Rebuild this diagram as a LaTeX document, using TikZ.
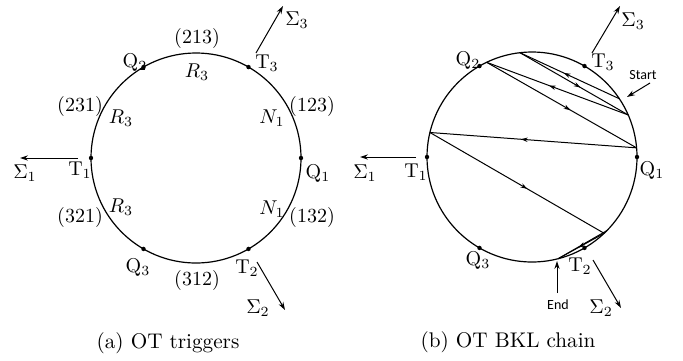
\documentclass[tikz,border=0pt]{standalone}
\usepackage{fontspec}
\newfontfamily\smallsans{Carlito}
\usetikzlibrary{calc,arrows.meta,decorations.markings}
\begin{document}
\begin{tikzpicture}[x=0.5pt,y=-0.5pt,
  circ/.style={line width=0.6pt},
  dot/.style={circle,fill,inner sep=0pt,minimum size=2.2pt},
  lbl/.style={inner sep=0pt,font=\normalsize},
  sig/.style={line width=0.5pt,-{Stealth[length=4pt,width=2.6pt]}},
  chord/.style={line width=0.5pt},
  mid/.style={postaction={decorate},decoration={markings,
      mark=at position 0.56 with {\arrow{Stealth[length=3.4pt,width=2.2pt]}}}},
  tag/.style={inner sep=0pt,font=\smallsans\fontsize{7}{8}\selectfont},
  captext/.style={inner sep=0pt,font=\fontsize{10.6}{12}\selectfont}]
\useasboundingbox (0,0) rectangle (683,360);

% ---------------- left circle ----------------
\coordinate (c1) at (196,158);
\draw[circ] (c1) circle[radius=105];
\node[dot] (lq1) at ($(c1)+(0:105)$) {};
\node[dot] (lt3) at ($(c1)+(-60:105)$) {};
\node[dot] (lq2) at ($(c1)+(-120:105)$) {};
\node[dot] (lt1) at ($(c1)+(180:105)$) {};
\node[dot] (lq3) at ($(c1)+(120:105)$) {};
\node[dot] (lt2) at ($(c1)+(60:105)$) {};

\node[lbl] (a213) at (197,38) {(213)};
\node[lbl] (ar3a) at (197,72) {$R_3$};
\node[lbl] (aQ2) at (135,62) {Q$_2$};
\node[lbl] (aT3) at (267,63) {T$_3$};
\node[lbl] (aS3) at (297,20) {$\Sigma_3$};
\node[lbl] (a231) at (80,106) {(231)};
\node[lbl] (ar3b) at (121,118) {$R_3$};
\node[lbl] (a123) at (312,106) {(123)};
\node[lbl] (an1a) at (272,118) {$N_1$};
\node[lbl] (aT1) at (80,170) {T$_1$};
\node[lbl] (aS1) at (25,173) {$\Sigma_1$};
\node[lbl] (aQ1) at (318,173) {Q$_1$};
\node[lbl] (a321) at (80,217) {(321)};
\node[lbl] (ar3c) at (121,207) {$R_3$};
\node[lbl] (an1b) at (272,209) {$N_1$};
\node[lbl] (a132) at (312,217) {(132)};
\node[lbl] (aQ3) at (138,267) {Q$_3$};
\node[lbl] (a312) at (197,280) {(312)};
\node[lbl] (aT2) at (247,268) {T$_2$};
\node[lbl] (aS2) at (258,308) {$\Sigma_2$};

\coordinate (ls1a) at (78,158); \coordinate (ls1b) at (20,158);
\coordinate (ls3a) at (256,53); \coordinate (ls3b) at (283,6);
\coordinate (ls2a) at (257,262); \coordinate (ls2b) at (285,310);
\draw[sig] (ls1a) -- (ls1b);
\draw[sig] (ls3a) -- (ls3b);
\draw[sig] (ls2a) -- (ls2b);

\node[captext] (capa) at (168,343) {(a) OT triggers};

% ---------------- right circle ----------------
\coordinate (c2) at (532,157);
\draw[circ] (c2) circle[radius=105];
\node[dot] (rq1) at ($(c2)+(0:105)$) {};
\node[dot] (rt3) at ($(c2)+(-60:105)$) {};
\node[dot] (rq2) at ($(c2)+(-120:105)$) {};
\node[dot] (rt1) at ($(c2)+(180:105)$) {};
\node[dot] (rq3) at ($(c2)+(120:105)$) {};
\node[dot] (rt2) at ($(c2)+(60:105)$) {};

\coordinate (p1) at ($(c2)+(-33.7:105)$);
\coordinate (p2) at ($(c2)+(-96.6:105)$);
\coordinate (p3) at ($(c2)+(-23.6:105)$);
\coordinate (p4) at ($(c2)+(-115.6:105)$);
\coordinate (p5) at ($(c2)+(-5:105)$);
\coordinate (p6) at ($(c2)+(-166.5:105)$);
\coordinate (p7) at ($(c2)+(46.6:105)$);
\coordinate (p8) at ($(c2)+(75.6:105)$);
\coordinate (p7b) at ($(c2)+(44.5:105)$);

\draw[chord,mid] (p1) -- (p2);
\draw[chord,mid] (p2) -- (p3);
\draw[chord,mid] (p3) -- (p4);
\draw[chord,mid] (p4) -- (p5);
\draw[chord,mid] (p5) -- (p6);
\draw[chord,mid] (p6) -- (p7);
\draw[chord,mid] (p7) -- (p8);
\draw[chord] (p8) -- (p7b);

\node[lbl] (bQ2) at (468,60) {Q$_2$};
\node[lbl] (bT3) at (603,62) {T$_3$};
\node[lbl] (bS3) at (633,21) {$\Sigma_3$};
\node[lbl] (bT1) at (416,172) {T$_1$};
\node[lbl] (bS1) at (365,173) {$\Sigma_1$};
\node[lbl] (bQ1) at (652,170) {Q$_1$};
\node[lbl] (bQ3) at (478,260) {Q$_3$};
\node[lbl] (bT2) at (580,266) {T$_2$};
\node[lbl] (bS2) at (601,308) {$\Sigma_2$};
\node[tag] (start) at (643,75) {Start};
\node[tag] (endl) at (558,305) {End};

\coordinate (rs1a) at (416,157); \coordinate (rs1b) at (360,157);
\coordinate (rs3a) at (592,53); \coordinate (rs3b) at (620,6);
\coordinate (rs2a) at (593,260); \coordinate (rs2b) at (621,308);
\draw[sig] (rs1a) -- (rs1b);
\draw[sig] (rs3a) -- (rs3b);
\draw[sig] (rs2a) -- (rs2b);
\coordinate (sta) at (650,83); \coordinate (stb) at (627,97);
\draw[sig] (sta) -- (stb);
\coordinate (ena) at (557,293); \coordinate (enb) at (557,261);
\draw[sig] (ena) -- (enb);

\node[captext] (capb) at (508,342) {(b) OT BKL chain};
\end{tikzpicture}
\end{document}
